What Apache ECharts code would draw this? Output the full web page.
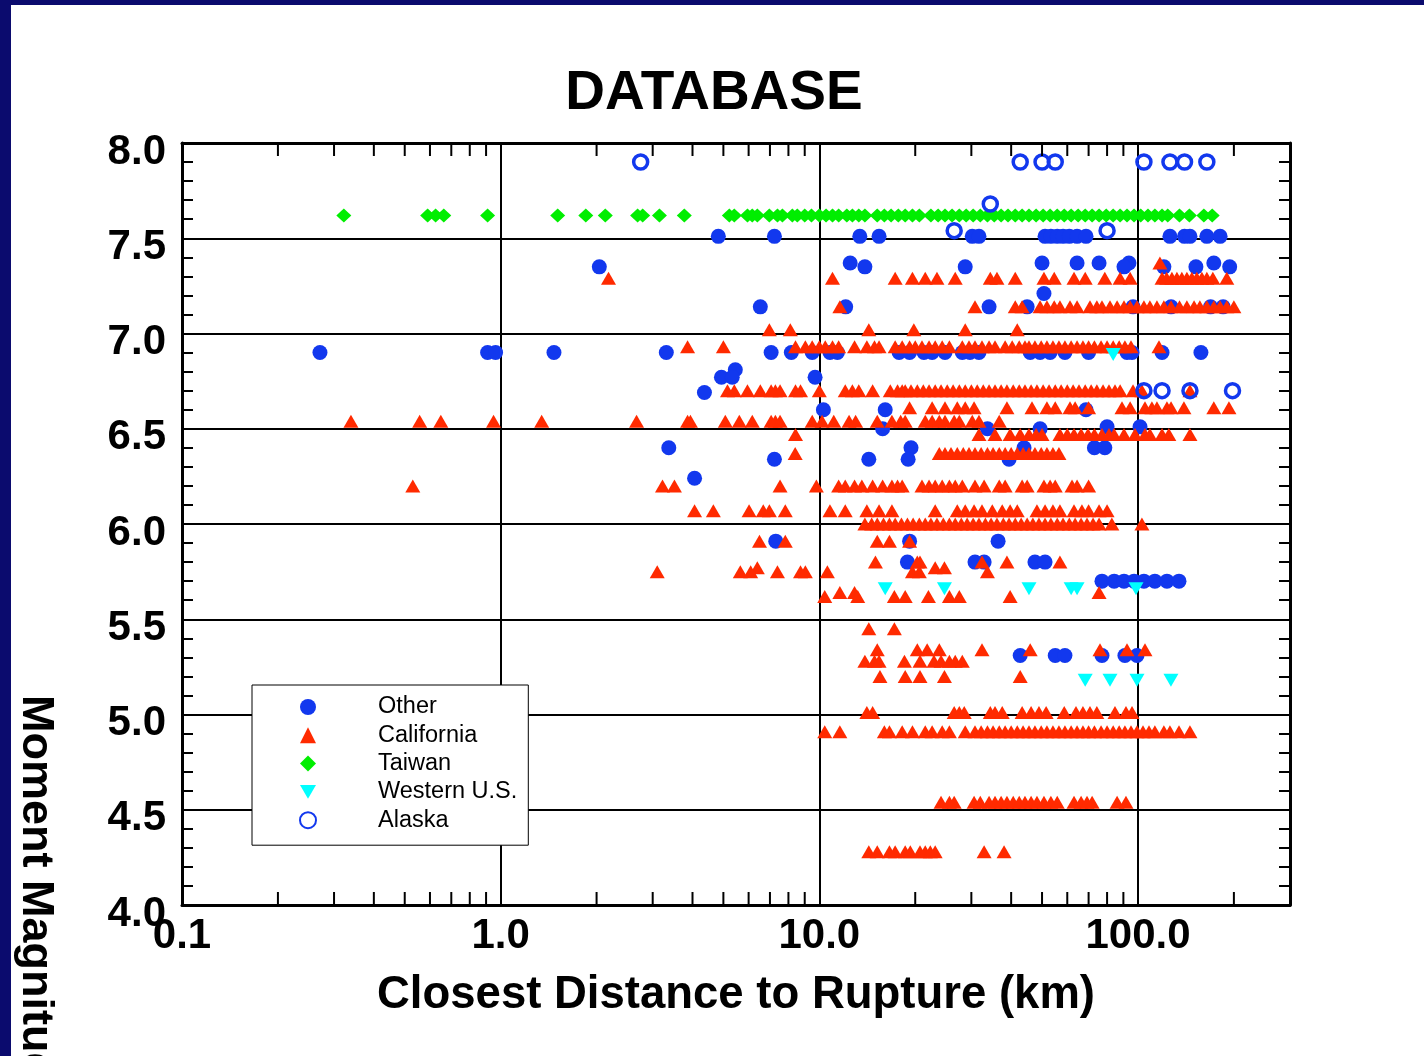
<!DOCTYPE html>
<html>
<head>
<meta charset="utf-8">
<script src="https://cdn.jsdelivr.net/npm/echarts@6/dist/echarts.min.js"></script>
<style>
html,body{margin:0;padding:0;background:#fff;}
#chart{width:1424px;height:1056px;}
</style>
</head>
<body>
<div id="chart"></div>
<script>
// ---------- DATA (distance km, moment magnitude) ----------
const xTickLabels = ['0.1', '1.0', '10.0', '100.0'];
const yTickLabels = ['4.0', '4.5', '5.0', '5.5', '6.0', '6.5', '7.0', '7.5', '8.0'];
const xMinorTicks = [0.2,0.3,0.4,0.5,0.6,0.7,0.8,0.9, 2,3,4,5,6,7,8,9, 20,30,40,50,60,70,80,90, 200];

// Each row: [magnitude, [distances]]
const otherRows = [
  [7.51, [4.82, 7.23, 13.4, 15.4, 30.2, 31.7, 51.1, 53.3, 55.8, 58.2, 60.9, 64.4, 68.7, 126, 140, 145.6, 164.5, 181]],
  [7.37, [12.5, 50, 64.4, 75.5, 93.7, 173]],
  [7.35, [2.04, 13.9, 28.7, 90.4, 120.6, 152, 194]],
  [7.21, [50.7]],
  [7.14, [6.53, 12.1, 34.1, 44.9, 96.5, 127, 169, 185]],
  [6.90, [0.271, 0.91, 0.964, 1.47, 3.31, 7.06, 8.17, 9.5, 10.8, 11.4, 17.8, 19.2, 21.3, 22.6, 24.8, 28.1, 29.7, 31.7, 45.9, 49.3, 53.0, 59.0, 70.0, 92.4, 95.8, 119, 157.6]],
  [6.81, [5.45]],
  [6.77, [4.93, 5.33, 9.7]],
  [6.69, [4.36]],
  [6.60, [10.3, 16.1, 68.7]],
  [6.51, [80, 101.5]],
  [6.50, [15.8, 33.7, 49.3]],
  [6.40, [3.37, 19.4, 43.9, 73.0, 78.7]],
  [6.34, [7.23, 14.3, 19.0, 39.4]],
  [6.24, [4.06]],
  [5.91, [7.3, 19.2, 36.4]],
  [5.80, [18.9, 30.8, 32.9, 47.5, 51.1]],
  [5.70, [77.1, 84.2, 90.4, 97.2, 104.4, 113, 123.3, 134.5]],
  [5.31, [42.7, 55.0, 59.0, 77.1, 91.0, 99.3]]
];

const californiaRows = [
  [7.37, [117.2]],
  [7.29, [2.18, 11.0, 17.3, 19.6, 21.5, 23.4, 26.7, 34.4, 36.1, 41.2, 50.7, 54.6, 63.0, 68.3, 78.7, 87.9, 94.5, 119, 123, 127.8, 132.5, 137.3, 142.4, 147.6, 153, 158.7, 164.5, 171.8, 190]],
  [7.14, [11.6, 30.8, 41.2, 43.3, 49.3, 51.8, 54.6, 56.9, 61.2, 64.4, 70.7, 74.3, 77.1, 81.7, 86.0, 90.4, 94.5, 99.3, 104.4, 109, 114.7, 120.6, 127, 135, 142.4, 150, 156.4, 164.5, 173, 181, 190, 200]],
  [7.02, [6.97, 8.11, 14.3, 19.8, 28.7, 41.8]],
  [6.93, [3.86, 5.0, 8.42, 9.04, 9.5, 10.0, 10.44, 11.0, 11.5, 12.9, 14.1, 14.9, 15.4, 17.3, 18.2, 19.2, 20.0, 21.0, 22.1, 23.1, 24.3, 25.6, 28.1, 29.5, 30.8, 32.4, 34.1, 35.6, 38.3, 40.3, 42.4, 44.2, 45.5, 47.5, 49.7, 51.8, 54.1, 56.5, 59.0, 61.7, 64.4, 67.2, 70.0, 73.0, 76.6, 80.0, 83.6, 87.3, 91.0, 95.1, 116.4]],
  [6.70, [5.15, 5.41, 5.95, 6.53, 7.06, 7.28, 7.53, 8.42, 8.73, 10.0, 12.06, 12.7, 13.3, 14.7, 16.7, 17.6, 18.2, 18.6, 19.4, 20.3, 21.2, 22.1, 23.1, 24.1, 25.2, 26.3, 27.5, 28.7, 30.0, 31.3, 32.7, 34.1, 35.6, 37.2, 38.8, 40.6, 42.4, 44.2, 46.2, 48.2, 50.4, 52.6, 55.0, 57.4, 60.0, 62.6, 65.3, 68.3, 71.3, 74.3, 77.7, 81.1, 84.7, 87.9, 96.5, 102.9, 145.6]],
  [6.61, [19.2, 22.6, 24.8, 27.1, 28.7, 30.6, 38.8, 46.5, 51.8, 55.0, 61.2, 63.5, 70.0, 89.1, 94.5, 105.2, 110.6, 114.7, 123.3, 127, 139.4, 173, 193]],
  [6.54, [0.339, 0.557, 0.649, 0.95, 1.345, 2.67, 3.86, 3.94, 5.07, 5.61, 6.16, 7.06, 7.28, 7.53, 9.5, 10.2, 11.1, 12.4, 13.0, 15.2, 16.9, 18.0, 18.6, 21.5, 22.6, 23.8, 24.8, 26.5, 27.5, 30.2, 31.7, 36.7]],
  [6.47, [8.42, 31.7, 35.6, 39.7, 42.7, 45.5, 47.9, 50.0, 56.9, 60.0, 63.0, 66.3, 69.7, 73.0, 77.1, 81.1, 84.2, 90.4, 97.9, 105.2, 109, 119, 125, 145.6]],
  [6.37, [8.4, 23.8, 24.8, 25.9, 27.1, 28.3, 29.5, 30.8, 32.2, 33.7, 35.1, 36.7, 38.3, 40.0, 41.8, 43.6, 45.5, 47.5, 49.7, 51.8, 54.1, 56.5]],
  [6.20, [0.530, 3.22, 3.51, 7.53, 9.79, 11.5, 12.06, 12.9, 13.6, 14.7, 15.8, 16.9, 17.6, 18.2, 21.0, 22.1, 23.1, 24.3, 25.6, 26.7, 28.1, 30.8, 32.9, 36.7, 38.3, 43.3, 44.9, 50.7, 53.0, 55.0, 62.1, 64.4, 70.0]],
  [6.07, [4.06, 4.65, 6.02, 6.67, 6.97, 7.82, 10.8, 12.06, 14.1, 15.4, 16.9, 23.1, 27.1, 28.7, 30.6, 32.4, 34.9, 37.5, 39.7, 41.8, 48.2, 51.1, 54.1, 56.9, 63.0, 66.7, 70.0, 75.5, 80.0]],
  [6.00, [13.9, 14.6, 15.2, 15.9, 16.6, 17.3, 18.1, 18.9, 19.7, 20.6, 21.5, 22.4, 23.4, 24.5, 25.6, 26.7, 27.9, 29.1, 30.4, 31.7, 33.2, 34.6, 36.1, 37.8, 39.4, 41.2, 43.0, 44.9, 46.8, 48.9, 51.1, 53.3, 55.8, 58.2, 60.9, 63.5, 66.3, 69.2, 72.3, 75.5, 82.8, 102.9]],
  [5.91, [6.49, 7.82, 15.2, 16.6, 19.2]],
  [5.80, [15.0, 20.3, 20.7, 32.4, 38.8, 56.9]],
  [5.77, [6.39, 23.1, 24.7]],
  [5.75, [3.10, 5.65, 6.09, 7.39, 8.73, 9.04, 10.6, 19.6, 20.6, 33.7]],
  [5.64, [11.6, 12.9, 75.5]],
  [5.62, [10.4, 13.2, 17.2, 18.6, 22.0, 25.6, 27.5, 39.7]],
  [5.45, [14.3, 17.2]],
  [5.34, [15.2, 20.3, 21.8, 23.8, 32.4, 45.9, 76.0, 92.4, 105.2]],
  [5.28, [13.9, 14.9, 15.4, 18.5, 20.7, 22.9, 24.1, 25.6, 26.7, 28.1]],
  [5.20, [15.5, 18.6, 20.7, 24.7, 42.7]],
  [5.01, [14.1, 14.7, 26.5, 27.5, 28.5, 34.4, 35.6, 37.5, 43.3, 46.2, 48.9, 51.5, 58.7, 63.9, 67.2, 70.7, 74.3, 84.7, 91.7, 95.8]],
  [4.91, [10.4, 11.6, 16.0, 16.6, 18.2, 19.6, 21.5, 22.6, 24.3, 25.6, 28.7, 30.8, 32.2, 33.7, 35.1, 36.7, 38.3, 40.0, 41.8, 43.6, 45.5, 47.5, 49.7, 51.8, 54.1, 56.5, 59.0, 61.7, 64.4, 67.2, 70.0, 73.0, 76.6, 80.0, 83.6, 87.3, 91.0, 95.1, 99.3, 103.7, 108.3, 113, 120.6, 126, 134.5, 145.6]],
  [4.54, [24.1, 25.6, 26.5, 30.6, 32.0, 34.1, 35.6, 37.2, 38.8, 40.6, 42.4, 44.2, 46.2, 48.2, 50.7, 53.3, 55.8, 63.0, 66.3, 69.2, 71.8, 86.0, 91.7]],
  [4.28, [14.3, 15.2, 16.6, 17.3, 18.6, 19.3, 20.7, 21.5, 22.3, 23.1, 32.9, 38.0]]
];

const taiwanRows = [
  [7.62, [0.322, 0.59, 0.625, 0.663, 0.91, 1.51, 1.85, 2.13, 2.69, 2.79, 3.15, 3.77, 5.22, 5.41, 5.95, 6.16, 6.39, 6.97, 7.39, 7.66, 8.23, 8.53, 9.0, 9.45, 10.0, 10.5, 11.0, 11.5, 12.2, 12.7, 13.3, 13.9, 15.2, 16.0, 16.8, 17.7, 18.6, 19.6, 20.6, 22.4, 23.6, 24.8, 26.1, 27.5, 28.9, 30.4, 32.0, 33.7, 35.4, 37.2, 39.1, 41.2, 43.3, 45.5, 47.9, 50.4, 53.0, 55.8, 58.7, 61.7, 64.9, 68.3, 71.8, 75.5, 79.5, 83.6, 87.9, 92.4, 97.2, 102, 107.5, 113, 119, 124, 135, 145, 161, 171]]
];

const westernRows = [
  [6.89, [83.6]],
  [5.66, [16.1, 24.7, 45.5, 61.7, 64.4, 98.6]],
  [5.18, [68.3, 81.7, 99.3, 126.9]]
];

const alaskaRows = [
  [7.90, [2.75, 42.7, 50.0, 55.0, 104.4, 126, 140, 164.5]],
  [7.68, [34.4]],
  [7.54, [26.5, 80]],
  [6.70, [104.4, 119, 145.6, 198]]
];

// ---------- BUILD ----------
function toPoints(rows) {
  const out = [];
  rows.forEach(function (r) { r[1].forEach(function (d) { out.push([d, r[0]]); }); });
  return out;
}

const FONT = "'Liberation Sans', Arial, Helvetica, sans-serif";
const BLUE = '#1238ee';
const RED = '#ff2a00';
const GREEN = '#00ee00';
const CYAN = '#00ffff';
const NAVY = '#0b0b6e';

const chart = echarts.init(document.getElementById('chart'), null, { renderer: 'canvas' });

const option = {
  animation: false,
  backgroundColor: '#ffffff',
  title: {
    text: 'DATABASE',
    left: 709,
    top: 61,
    textAlign: 'center',
    textStyle: { fontFamily: FONT, fontWeight: 'bold', fontSize: 55, color: '#000' }
  },
  legend: {
    orient: 'vertical',
    left: 252,
    top: 685,
    data: [
      { name: 'Other' },
      { name: 'California' },
      { name: 'Taiwan' },
      { name: 'Western U.S.', icon: 'path://M0,0 L14,0 L7,12 Z' },
      { name: 'Alaska' }
    ],
    itemWidth: 16,
    itemHeight: 16,
    itemGap: 4.3,
    padding: [10, 11, 13, 47],
    backgroundColor: '#fff',
    borderColor: '#000',
    borderWidth: 1,
    textStyle: { fontFamily: FONT, fontSize: 23.5, color: '#000', padding: [0, 0, 0, 57] }
  },
  grid: { left: 182, right: 134, top: 143, bottom: 151, show: false },
  xAxis: [
    {
      type: 'log', logBase: 10, min: 0.1, max: 300, position: 'bottom',
      name: 'Closest Distance to Rupture (km)', nameLocation: 'middle', nameGap: 67,
      nameTextStyle: { fontFamily: FONT, fontWeight: 'bold', fontSize: 45.5, color: '#000' },
      axisLine: { show: true, onZero: false, lineStyle: { color: '#000', width: 3 } },
      axisTick: { show: true, inside: true, length: 14, lineStyle: { color: '#000', width: 2 } },
      axisLabel: {
        show: true, margin: 10, showMaxLabel: false,
        fontFamily: FONT, fontWeight: 'bold', fontSize: 42, color: '#000',
        formatter: function (v) {
          const i = Math.round(Math.log10(v)) + 1;
          return xTickLabels[i] !== undefined ? xTickLabels[i] : '';
        }
      },
      splitLine: { show: true, lineStyle: { color: '#000', width: 2 } }
    },
    {
      type: 'log', logBase: 10, min: 0.1, max: 300, position: 'top',
      axisLine: { show: true, onZero: false, lineStyle: { color: '#000', width: 3 } },
      axisTick: { show: true, inside: true, length: 14, lineStyle: { color: '#000', width: 2 } },
      axisLabel: { show: false },
      splitLine: { show: false }
    }
  ],
  yAxis: [
    {
      type: 'value', min: 4, max: 8, interval: 0.5, position: 'left',
      axisLine: { show: true, onZero: false, lineStyle: { color: '#000', width: 3 } },
      axisTick: { show: true, inside: true, length: 14, lineStyle: { color: '#000', width: 2 } },
      minorTick: { show: true, splitNumber: 5, length: 11, lineStyle: { color: '#000', width: 2 } },
      axisLabel: {
        show: true, margin: 16, verticalAlign: 'top', lineHeight: 18,
        fontFamily: FONT, fontWeight: 'bold', fontSize: 42, color: '#000',
        formatter: function (v) {
          const i = Math.round((v - 4) / 0.5);
          return yTickLabels[i] !== undefined ? yTickLabels[i] : '';
        }
      },
      splitLine: { show: true, lineStyle: { color: '#000', width: 2 } }
    },
    {
      type: 'value', min: 4, max: 8, interval: 0.5, position: 'right',
      axisLine: { show: true, onZero: false, lineStyle: { color: '#000', width: 3 } },
      axisTick: { show: true, inside: true, length: 14, lineStyle: { color: '#000', width: 2 } },
      minorTick: { show: true, splitNumber: 5, length: 11, lineStyle: { color: '#000', width: 2 } },
      axisLabel: { show: false },
      splitLine: { show: false }
    }
  ],
  graphic: [
    { type: 'rect', z: -10, shape: { x: 0, y: 0, width: 1424, height: 5 }, style: { fill: NAVY } },
    { type: 'rect', z: -10, shape: { x: 0, y: 0, width: 11, height: 1056 }, style: { fill: NAVY } },
    {
      type: 'text', x: 35, y: 900, rotation: -Math.PI / 2,
      style: { text: 'Moment Magnitude', font: "bold 45px 'Liberation Sans', Arial, sans-serif", fill: '#000', align: 'center', verticalAlign: 'middle' }
    }
  ],
  series: [
    {
      name: 'Other', type: 'scatter', symbol: 'circle', symbolSize: 15,
      itemStyle: { color: BLUE, opacity: 1 },
      data: toPoints(otherRows)
    },
    {
      name: 'California', type: 'scatter', symbol: 'triangle', symbolSize: [15, 13],
      itemStyle: { color: RED, opacity: 1 },
      data: toPoints(californiaRows)
    },
    {
      name: 'Taiwan', type: 'scatter', symbol: 'diamond', symbolSize: [15, 14],
      itemStyle: { color: GREEN, opacity: 1 },
      data: toPoints(taiwanRows)
    },
    {
      name: 'Western U.S.', type: 'scatter', symbol: 'triangle', symbolRotate: 180, symbolSize: [15, 13],
      itemStyle: { color: CYAN, opacity: 1 },
      data: toPoints(westernRows)
    },
    {
      name: 'Alaska', type: 'scatter', symbol: 'circle', symbolSize: 14,
      itemStyle: { color: 'rgba(255,255,255,0)', borderColor: BLUE, borderWidth: 3.5, opacity: 1 },
      data: toPoints(alaskaRows)
    },
    {
      name: 'minorTicks', type: 'custom', silent: true, clip: false, z: 5,
      data: xMinorTicks.map(function (v) { return [v, 4]; }),
      renderItem: function (params, api) {
        const v = api.value(0);
        const top = api.coord([v, 8]);
        const bot = api.coord([v, 4]);
        const ls = { stroke: '#000', lineWidth: 2 };
        return {
          type: 'group',
          children: [
            { type: 'line', shape: { x1: top[0], y1: top[1], x2: top[0], y2: top[1] + 13 }, style: ls },
            { type: 'line', shape: { x1: bot[0], y1: bot[1], x2: bot[0], y2: bot[1] - 13 }, style: ls }
          ]
        };
      }
    }
  ]
};

chart.setOption(option);
</script>
</body>
</html>
